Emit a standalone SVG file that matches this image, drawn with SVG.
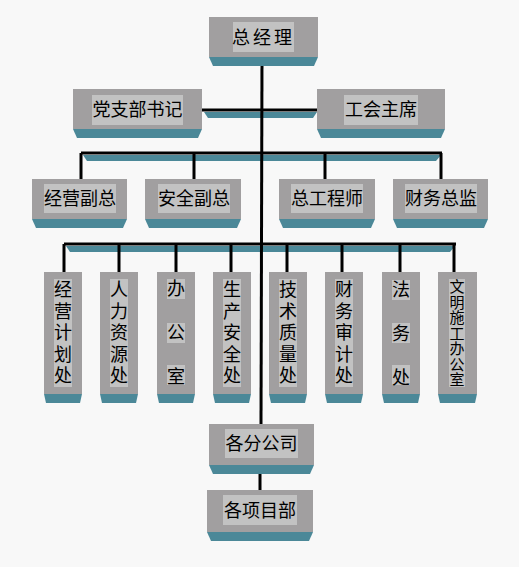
<svg xmlns="http://www.w3.org/2000/svg" width="519" height="567" viewBox="0 0 519 567">
<style>
.box{fill:#a19fa0}
.sh{fill:#4b8898}
.lb{fill:#c2c2c2}
.t{font-family:"Noto Sans CJK SC","Noto Sans",sans-serif;font-size:18px;fill:#000;text-anchor:middle}
.v{font-family:"Noto Sans CJK SC","Noto Sans",sans-serif;font-size:18px;fill:#000;text-anchor:middle;writing-mode:vertical-rl;letter-spacing:3.5px}
.vw{letter-spacing:26px}
.vs{font-size:15px;letter-spacing:0.5px}
.ln{stroke:#000;stroke-width:3;fill:none}
</style>
<rect width="519" height="567" fill="#f8f8f8"/>
<g id="connectors">
<polygon class="sh" points="204,112 317,112 313,118 208,118"/>
<line class="ln" x1="202" y1="110" x2="317" y2="110"/>
<polygon class="sh" points="83,155 441,155 436,161 87,161"/>
<line class="ln" x1="81" y1="153" x2="442" y2="153"/>
<path class="ln" d="M81,153V179M194,153V179M325,153V179M441,153V179"/>
<polygon class="sh" points="66,246 455,246 450,252 70,252"/>
<line class="ln" x1="64" y1="244" x2="456" y2="244"/>
<path class="ln" d="M64,244V272M119,244V272M176,244V272M231,244V272M287,244V272M342,244V272M400,244V272M454,244V272"/>
<line class="ln" x1="262" y1="57" x2="261" y2="424"/>
<line class="ln" x1="260" y1="465" x2="260" y2="490"/>
</g>
<g id="gm">
<rect class="box" x="209" y="17" width="109" height="40"/>
<polygon class="sh" points="209,57 318,57 314,66 213,66"/>
<rect class="lb" x="233" y="22" width="61" height="30"/>
<text class="t" x="263.5" y="44" letter-spacing="3">总经理</text>
</g>
<g id="dang">
<rect class="box" x="73" y="89" width="129" height="40"/>
<polygon class="sh" points="73,129 202,129 198,138 77,138"/>
<rect class="lb" x="92" y="95" width="91" height="30"/>
<text class="t" x="137.5" y="116">党支部书记</text>
</g>
<g id="gonghui">
<rect class="box" x="317" y="89" width="128" height="40"/>
<polygon class="sh" points="317,129 445,129 441,138 321,138"/>
<rect class="lb" x="344" y="95" width="74" height="30"/>
<text class="t" x="381" y="116">工会主席</text>
</g>
<g id="jingying">
<rect class="box" x="32" y="179" width="95" height="40"/>
<polygon class="sh" points="32,219 127,219 123,228 36,228"/>
<rect class="lb" x="44" y="184" width="72" height="29"/>
<text class="t" x="80" y="205">经营副总</text>
</g>
<g id="anquan">
<rect class="box" x="145" y="179" width="96" height="40"/>
<polygon class="sh" points="145,219 241,219 237,228 149,228"/>
<rect class="lb" x="158" y="184" width="72" height="29"/>
<text class="t" x="194" y="205">安全副总</text>
</g>
<g id="zonggong">
<rect class="box" x="279" y="179" width="96" height="40"/>
<polygon class="sh" points="279,219 375,219 371,228 283,228"/>
<rect class="lb" x="291" y="184" width="72" height="29"/>
<text class="t" x="327" y="205">总工程师</text>
</g>
<g id="caiwu">
<rect class="box" x="393" y="179" width="95" height="40"/>
<polygon class="sh" points="393,219 488,219 484,228 397,228"/>
<rect class="lb" x="405" y="184" width="72" height="29"/>
<text class="t" x="441" y="205">财务总监</text>
</g>
<g id="d1">
<rect class="box" x="44" y="272" width="38" height="122"/>
<polygon class="sh" points="44,394 82,394 80,403 46,403"/>
<rect class="lb" x="54" y="279" width="18" height="108"/>
<text class="v" x="63" y="334">经营计划处</text>
</g>
<g id="d2">
<rect class="box" x="100" y="272" width="38" height="122"/>
<polygon class="sh" points="100,394 138,394 136,403 102,403"/>
<rect class="lb" x="110" y="279" width="18" height="108"/>
<text class="v" x="119" y="334">人力资源处</text>
</g>
<g id="d3">
<rect class="box" x="157" y="272" width="38" height="122"/>
<polygon class="sh" points="157,394 195,394 193,403 159,403"/>
<rect class="lb" x="167" y="279" width="18" height="20"/>
<rect class="lb" x="167" y="323" width="18" height="20"/>
<rect class="lb" x="167" y="365" width="18" height="20"/>
<text class="v vw" x="176" y="345">办公室</text>
</g>
<g id="d4">
<rect class="box" x="213" y="272" width="38" height="122"/>
<polygon class="sh" points="213,394 251,394 249,403 215,403"/>
<rect class="lb" x="223" y="279" width="18" height="108"/>
<text class="v" x="232" y="334">生产安全处</text>
</g>
<g id="d5">
<rect class="box" x="269" y="272" width="38" height="122"/>
<polygon class="sh" points="269,394 307,394 305,403 271,403"/>
<rect class="lb" x="279" y="279" width="18" height="108"/>
<text class="v" x="288" y="334">技术质量处</text>
</g>
<g id="d6">
<rect class="box" x="325" y="272" width="38" height="122"/>
<polygon class="sh" points="325,394 363,394 361,403 327,403"/>
<rect class="lb" x="335" y="279" width="18" height="108"/>
<text class="v" x="344" y="334">财务审计处</text>
</g>
<g id="d7">
<rect class="box" x="382" y="272" width="38" height="122"/>
<polygon class="sh" points="382,394 420,394 418,403 384,403"/>
<rect class="lb" x="392" y="280" width="18" height="20"/>
<rect class="lb" x="392" y="323" width="18" height="20"/>
<rect class="lb" x="392" y="365" width="18" height="20"/>
<text class="v vw" x="401" y="346">法务处</text>
</g>
<g id="d8">
<rect class="box" x="438" y="272" width="39" height="122"/>
<polygon class="sh" points="438,394 477,394 475,403 440,403"/>
<rect class="lb" x="449" y="279" width="16" height="108"/>
<text class="v vs" x="457" y="333.5">文明施工办公室</text>
</g>
<g id="fengongsi">
<rect class="box" x="209" y="424" width="105" height="41"/>
<polygon class="sh" points="209,465 314,465 310,474 213,474"/>
<rect class="lb" x="225" y="429" width="73" height="29"/>
<text class="t" x="261.5" y="450">各分公司</text>
</g>
<g id="xiangmubu">
<rect class="box" x="207" y="490" width="106" height="42"/>
<polygon class="sh" points="207,532 313,532 309,541 211,541"/>
<rect class="lb" x="223" y="495" width="74" height="30"/>
<text class="t" x="260" y="517">各项目部</text>
</g>
</svg>
